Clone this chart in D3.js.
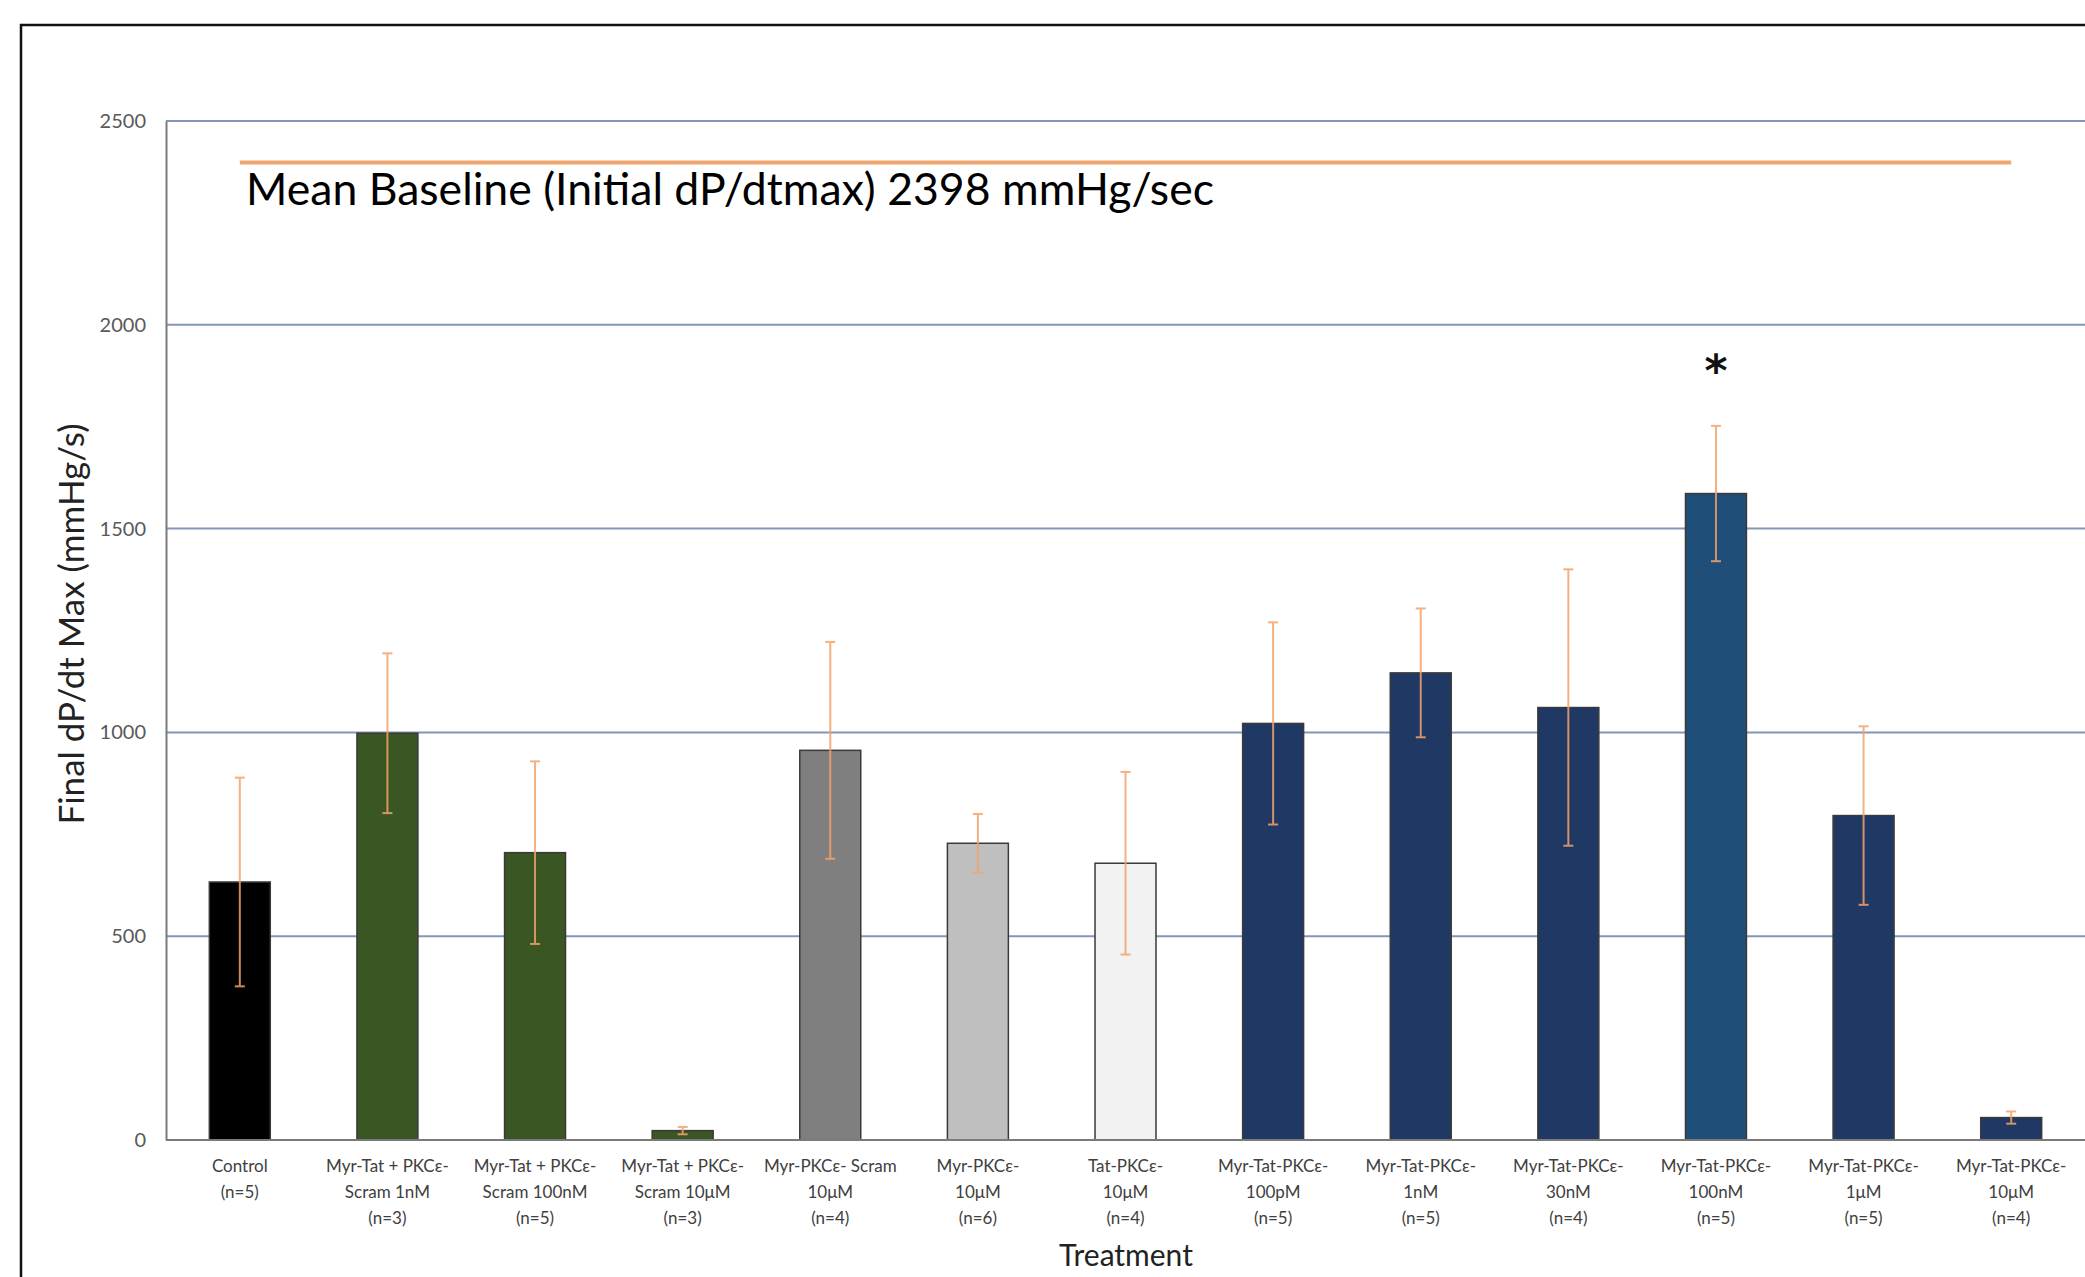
<!DOCTYPE html>
<html>
<head>
<meta charset="utf-8">
<script src="https://cdn.jsdelivr.net/npm/d3@7"></script>
<style>
  html, body { margin: 0; padding: 0; background: #fff; }
  svg { display: block; }
</style>
</head>
<body>
<svg id="chart" width="2085" height="1277"></svg>
<script>
// Treatment groups, each label split into its printed lines
const categories = [
  "Control", "Scram 1nM", "Scram 100nM", "Scram 10uM", "Myr-PKCe-Scram 10uM",
  "Myr-PKCe 10uM", "Tat-PKCe 10uM", "MTP 100pM", "MTP 1nM", "MTP 30nM",
  "MTP 100nM", "MTP 1uM", "MTP 10uM"
];
const labelLines = [
  ["Control", "(n=5)"],
  ["Myr-Tat + PKCε-", "Scram 1nM", "(n=3)"],
  ["Myr-Tat + PKCε-", "Scram 100nM", "(n=5)"],
  ["Myr-Tat + PKCε-", "Scram 10μM", "(n=3)"],
  ["Myr-PKCε- Scram", "10μM", "(n=4)"],
  ["Myr-PKCε-", "10μM", "(n=6)"],
  ["Tat-PKCε-", "10μM", "(n=4)"],
  ["Myr-Tat-PKCε-", "100pM", "(n=5)"],
  ["Myr-Tat-PKCε-", "1nM", "(n=5)"],
  ["Myr-Tat-PKCε-", "30nM", "(n=4)"],
  ["Myr-Tat-PKCε-", "100nM", "(n=5)"],
  ["Myr-Tat-PKCε-", "1μM", "(n=5)"],
  ["Myr-Tat-PKCε-", "10μM", "(n=4)"]
];
// Final dP/dt max (mmHg/s), mean and error
const means  = [633, 998, 705, 23, 956, 728, 679, 1022, 1146, 1061, 1586, 796, 55];
const errors = [256, 196, 224, 9, 266, 72, 224, 248, 158, 339, 166, 219, 15];
const fills  = ["#000000", "#3a5623", "#3a5623", "#3a5623", "#7f7f7f", "#bfbfbf", "#f2f2f2",
                "#203864", "#203864", "#203864", "#1f4e79", "#203864", "#203864"];
const yTicks = [0, 500, 1000, 1500, 2000, 2500];
const baselineValue = 2398;
const baselineLabel = "Mean Baseline (Initial dP/dtmax) 2398 mmHg/sec";
const significant = [false, false, false, false, false, false, false, false, false, false, true, false, false];

const svg = d3.select("#chart");
const plotLeft = 166, plotRight = 2085, plotTop = 121, plotBottom = 1140;

// outer frame
svg.append("path")
  .attr("d", `M21,1277 L21,25 L2085,25`)
  .attr("fill", "none").attr("stroke", "#111").attr("stroke-width", 2.5);

const x = d3.scaleBand().domain(categories).range([plotLeft, plotRight])
  .paddingInner(0.587).paddingOuter(0.2935);
const y = d3.scaleLinear().domain([0, 2500]).range([plotBottom, plotTop]);

// horizontal gridlines
svg.append("g").selectAll("line").data(yTicks.filter(d => d > 0)).join("line")
  .attr("x1", plotLeft).attr("x2", plotRight)
  .attr("y1", d => y(d)).attr("y2", d => y(d))
  .attr("stroke", "#8496b8").attr("stroke-width", 2);

// y axis
const yAxis = svg.append("g").attr("transform", `translate(${plotLeft},0)`)
  .call(d3.axisLeft(y).tickValues(yTicks).tickFormat(d3.format("d")).tickSize(0).tickPadding(20));
yAxis.select(".domain").attr("stroke", "#7a7a7a").attr("stroke-width", 2);
yAxis.selectAll("text")
  .attr("font-family", "Lato, 'Open Sans', sans-serif")
  .attr("font-size", 20).attr("fill", "#595959");

// bars
svg.append("g").selectAll("rect").data(categories).join("rect")
  .attr("x", d => x(d))
  .attr("width", x.bandwidth())
  .attr("y", (d, i) => y(means[i]))
  .attr("height", (d, i) => y(0) - y(means[i]))
  .attr("fill", (d, i) => fills[i])
  .attr("stroke", "#3a3a3a").attr("stroke-width", 1.5);

// x axis line at zero
svg.append("line")
  .attr("x1", plotLeft).attr("x2", plotRight)
  .attr("y1", y(0)).attr("y2", y(0))
  .attr("stroke", "#7a7a7a").attr("stroke-width", 2);

// error bars
const eb = svg.append("g").attr("stroke", "#f4a36a").attr("stroke-width", 2).attr("opacity", 0.85);
categories.forEach((c, i) => {
  const cx = x(c) + x.bandwidth() / 2;
  const hi = y(means[i] + errors[i]), lo = y(means[i] - errors[i]);
  eb.append("line").attr("x1", cx).attr("x2", cx).attr("y1", hi).attr("y2", lo);
  eb.append("line").attr("x1", cx - 5).attr("x2", cx + 5).attr("y1", hi).attr("y2", hi);
  eb.append("line").attr("x1", cx - 5).attr("x2", cx + 5).attr("y1", lo).attr("y2", lo);
});

// significance marks
categories.forEach((c, i) => {
  if (!significant[i]) return;
  svg.append("text")
    .attr("x", x(c) + x.bandwidth() / 2)
    .attr("y", y(means[i] + errors[i]) - 40)
    .attr("text-anchor", "middle")
    .attr("font-family", "'DejaVu Sans', sans-serif")
    .attr("font-weight", "bold").attr("font-size", 44).attr("fill", "#111")
    .text("*");
});

// mean baseline reference line
const x0 = x(categories[0]) + x.bandwidth() / 2;
const x1 = x(categories[categories.length - 1]) + x.bandwidth() / 2;
svg.append("line")
  .attr("x1", x0).attr("x2", x1)
  .attr("y1", y(baselineValue)).attr("y2", y(baselineValue))
  .attr("stroke", "#f2a66f").attr("stroke-width", 4);
svg.append("text")
  .attr("x", 246).attr("y", 205)
  .attr("font-family", "Lato, 'Open Sans', sans-serif")
  .attr("font-size", 44).attr("fill", "#000")
  .attr("textLength", 968).attr("lengthAdjust", "spacingAndGlyphs")
  .text(baselineLabel);

// category labels
const lab = svg.append("g")
  .attr("font-family", "Lato, 'Open Sans', sans-serif")
  .attr("font-size", 17).attr("fill", "#404040").attr("text-anchor", "middle");
categories.forEach((c, i) => {
  const cx = x(c) + x.bandwidth() / 2;
  labelLines[i].forEach((t, k) => {
    lab.append("text").attr("x", cx).attr("y", 1172 + k * 26).text(t);
  });
});

// axis titles
svg.append("text")
  .attr("transform", `translate(84,624) rotate(-90)`)
  .attr("text-anchor", "middle")
  .attr("font-family", "Lato, 'Open Sans', sans-serif")
  .attr("font-size", 35).attr("fill", "#222")
  .text("Final dP/dt Max (mmHg/s)");
svg.append("text")
  .attr("x", 1126).attr("y", 1266)
  .attr("text-anchor", "middle")
  .attr("font-family", "Lato, 'Open Sans', sans-serif")
  .attr("font-size", 30).attr("fill", "#222")
  .text("Treatment");
</script>
</body>
</html>
